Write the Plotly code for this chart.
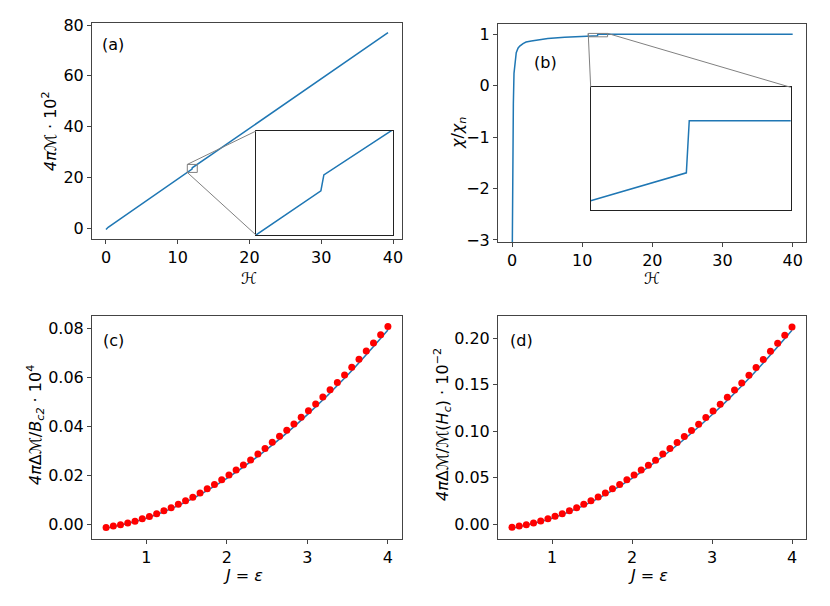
import plotly.graph_objects as go

# the page body has an 8px margin, so the figure is drawn 8px in from the window corner
OFF = 8
W, H = 830 - 2 * OFF, 606 - 2 * OFF

# (a) magnetisation vs field
H_a = [0.0, 0.3, 2.0, 5.0, 8.0, 10.0, 11.33, 11.99, 12.02, 12.72, 15.0, 20.0, 25.0, 30.0, 35.0, 39.3]
M_a = [-0.6, 0.3, 3.6, 9.5, 15.4, 19.3, 21.93, 23.27, 23.75, 25.08, 29.5, 39.3, 49.0, 58.8, 68.5, 77.0]

# (b) susceptibility ratio vs field
H_b = [0.02, 0.1, 0.19, 0.28, 0.47, 0.6, 0.85, 1.1, 1.57, 2.0, 2.75, 3.5, 5.1, 7.5, 10.86, 12.18, 12.22, 20.0, 30.0, 40.0]
chi_b = [-3.5, -1.31, -0.34, 0.24, 0.56, 0.64, 0.73, 0.77, 0.82, 0.85, 0.87, 0.89, 0.92, 0.94, 0.956, 0.971, 0.999, 0.999, 0.999, 0.999]

# (c), (d) jump vs J = eps : points and theory curve
J_pts = [0.500, 0.590, 0.679, 0.769, 0.859, 0.949, 1.038, 1.128, 1.218, 1.308,
         1.397, 1.487, 1.577, 1.667, 1.756, 1.846, 1.936, 2.026, 2.115, 2.205,
         2.295, 2.385, 2.474, 2.564, 2.654, 2.744, 2.833, 2.923, 3.013, 3.103,
         3.192, 3.282, 3.372, 3.462, 3.551, 3.641, 3.731, 3.821, 3.910, 4.000]
dM_c = [-0.0014, -0.0008, -0.0003, 0.0004, 0.0012, 0.0022, 0.0031, 0.0042, 0.0054, 0.0067,
        0.0081, 0.0095, 0.0110, 0.0127, 0.0144, 0.0162, 0.0181, 0.0200, 0.0221, 0.0241,
        0.0262, 0.0286, 0.0309, 0.0334, 0.0359, 0.0383, 0.0409, 0.0436, 0.0463, 0.0491,
        0.0519, 0.0549, 0.0578, 0.0609, 0.0641, 0.0673, 0.0707, 0.0740, 0.0773, 0.0807]
dM_d = [-0.0035, -0.0022, -0.0008, 0.0011, 0.0032, 0.0057, 0.0083, 0.0111, 0.0143, 0.0175,
        0.0212, 0.0251, 0.0290, 0.0333, 0.0380, 0.0427, 0.0476, 0.0527, 0.0581, 0.0634,
        0.0688, 0.0753, 0.0814, 0.0878, 0.0943, 0.1008, 0.1075, 0.1147, 0.1218, 0.1290,
        0.1366, 0.1444, 0.1519, 0.1602, 0.1685, 0.1771, 0.1860, 0.1946, 0.2032, 0.2122]
J_fit = [0.5, 1.0, 1.5, 2.0, 2.5, 3.0, 3.5, 4.0]
fit_c = [-0.0017, 0.0024, 0.0092, 0.0187, 0.0306, 0.0447, 0.0609, 0.0793]
fit_d = [-0.0045, 0.0063, 0.0242, 0.0492, 0.0805, 0.1176, 0.1603, 0.2087]

BLUE = "#1f77b4"
FONT = "DejaVu Sans"
FS = 16


def px_x(p):
    return (p - OFF) / W


def px_y(p):
    return 1 - (p - OFF) / H


def dom(l, t, r, b):
    return [px_x(l), px_x(r)], [px_y(b), px_y(t)]


def to_paper(v, rng, d):
    return d[0] + (v - rng[0]) / (rng[1] - rng[0]) * (d[1] - d[0])


# window-pixel boxes of the axes
xa, ya = dom(92, 23, 402, 239)
xb, yb = dom(498, 24, 806, 242)
xc, yc = dom(92, 316, 402, 539)
xd, yd = dom(498, 316, 806, 539)
xai, yai = dom(256, 131, 392.7, 235)
xbi, ybi = dom(590.7, 87.3, 790.7, 210)

rng_a = ([-1.95, 41.25], [-4.3, 80.8])
rng_b = ([-2.0, 41.9], [-3.04, 1.2])
rng_c = ([0.325, 4.175], [-0.0061, 0.085])
rng_d = ([0.325, 4.175], [-0.0161, 0.224])
zoom_a = ([11.33, 12.72], [21.93, 25.08])
zoom_b = ([10.86, 13.62], [0.951, 1.017])

fig = go.Figure()
line = dict(color=BLUE, width=1.5)
fig.add_trace(go.Scatter(x=H_a, y=M_a, mode="lines", line=line, xaxis="x", yaxis="y"))
fig.add_trace(go.Scatter(x=H_a, y=M_a, mode="lines", line=line, xaxis="x5", yaxis="y5"))
fig.add_trace(go.Scatter(x=H_b, y=chi_b, mode="lines", line=line, xaxis="x2", yaxis="y2"))
fig.add_trace(go.Scatter(x=H_b, y=chi_b, mode="lines", line=line, xaxis="x6", yaxis="y6"))
for ax, fit, pts in [("3", fit_c, dM_c), ("4", fit_d, dM_d)]:
    fig.add_trace(go.Scatter(x=J_fit, y=fit, mode="lines", line=dict(color=BLUE, width=1.5, shape="spline"),
                             xaxis="x" + ax, yaxis="y" + ax))
    fig.add_trace(go.Scatter(x=J_pts, y=pts, mode="markers", marker=dict(color="red", size=7),
                             xaxis="x" + ax, yaxis="y" + ax))


def main_axis(d, rng, tickvals, anchor, fmt=None):
    a = dict(domain=d, range=rng, anchor=anchor, showline=True, mirror=True, linecolor="#444",
             linewidth=1, ticks="outside", ticklen=4, tickcolor="#444", tickvals=tickvals,
             showgrid=False, zeroline=False, automargin=False,
             tickfont=dict(family=FONT, size=FS, color="black"))
    if fmt:
        a["tickformat"] = fmt
    return a


def inset_axis(d, rng, anchor):
    return dict(domain=d, range=rng, anchor=anchor, showline=True, mirror=True, linecolor="#222",
                linewidth=1, showticklabels=False, ticks="", showgrid=False, zeroline=False,
                automargin=False)


fig.update_layout(
    template="none",
    width=W, height=H, margin=dict(l=0, r=0, t=0, b=0), autosize=False,
    paper_bgcolor="white", plot_bgcolor="white", showlegend=False,
    xaxis=main_axis(xa, rng_a[0], [0, 10, 20, 30, 40], "y"),
    yaxis=main_axis(ya, rng_a[1], [0, 20, 40, 60, 80], "x"),
    xaxis2=main_axis(xb, rng_b[0], [0, 10, 20, 30, 40], "y2"),
    yaxis2=main_axis(yb, rng_b[1], [-3, -2, -1, 0, 1], "x2"),
    xaxis3=main_axis(xc, rng_c[0], [1, 2, 3, 4], "y3"),
    yaxis3=main_axis(yc, rng_c[1], [0, 0.02, 0.04, 0.06, 0.08], "x3", ".2f"),
    xaxis4=main_axis(xd, rng_d[0], [1, 2, 3, 4], "y4"),
    yaxis4=main_axis(yd, rng_d[1], [0, 0.05, 0.10, 0.15, 0.20], "x4", ".2f"),
    xaxis5=inset_axis(xai, zoom_a[0], "y5"),
    yaxis5=inset_axis(yai, zoom_a[1], "x5"),
    xaxis6=inset_axis(xbi, zoom_b[0], "y6"),
    yaxis6=inset_axis(ybi, zoom_b[1], "x6"),
)

GREY = "#808080"
# zoom rectangles
fig.add_shape(type="rect", xref="x", yref="y", x0=zoom_a[0][0], x1=zoom_a[0][1], y0=zoom_a[1][0], y1=zoom_a[1][1],
              line=dict(color=GREY, width=1))
fig.add_shape(type="rect", xref="x2", yref="y2", x0=zoom_b[0][0], x1=zoom_b[0][1], y0=zoom_b[1][0], y1=zoom_b[1][1],
              line=dict(color=GREY, width=1))
# connectors (a): upper-left and lower-left corners
for yy, iy in [(zoom_a[1][1], yai[1]), (zoom_a[1][0], yai[0])]:
    fig.add_shape(type="line", xref="paper", yref="paper",
                  x0=to_paper(zoom_a[0][0], rng_a[0], xa), y0=to_paper(yy, rng_a[1], ya),
                  x1=xai[0], y1=iy, line=dict(color=GREY, width=1))
# connectors (b): upper-left and upper-right corners
for xx, ix in [(zoom_b[0][0], xbi[0]), (zoom_b[0][1], xbi[1])]:
    fig.add_shape(type="line", xref="paper", yref="paper",
                  x0=to_paper(xx, rng_b[0], xb), y0=to_paper(zoom_b[1][1], rng_b[1], yb),
                  x1=ix, y1=ybi[1], line=dict(color=GREY, width=1))

H_lbl = "\u210b"
M_lbl = "\u2133"
J_lbl = "<i>J</i> = <i>\u03b5</i>"
titles = [
    (H_lbl, 249, 278, 0),
    (H_lbl, 652, 278, 0),
    (J_lbl, 243, 575, 0),
    (J_lbl, 648, 575, 0),
    ("<i>4\u03c0</i>" + M_lbl + " \u00b7 10<sup>2</sup>", 50, 131, -90),
    ("<i>\u03c7</i>/<i>\u03c7<sub>n</sub></i>", 458, 133, -90),
    ("<i>4\u03c0</i>\u0394" + M_lbl + "/<i>B<sub>c2</sub></i> \u00b7 10<sup>4</sup>", 35, 425, -90),
    ("<i>4\u03c0</i>\u0394" + M_lbl + "/" + M_lbl + "(<i>H<sub>c</sub></i>) \u00b7 10<sup>\u22122</sup>", 442, 425, -90),
    ("(a)", 113, 44, 0),
    ("(b)", 545, 63, 0),
    ("(c)", 113, 340, 0),
    ("(d)", 521, 340, 0),
]
for txt, px, py, ang in titles:
    fig.add_annotation(text=txt, x=px_x(px), y=px_y(py), xref="paper", yref="paper", showarrow=False,
                       textangle=ang, xanchor="center", yanchor="middle",
                       font=dict(family=FONT, size=FS, color="black"))

fig.write_html("out.html")
